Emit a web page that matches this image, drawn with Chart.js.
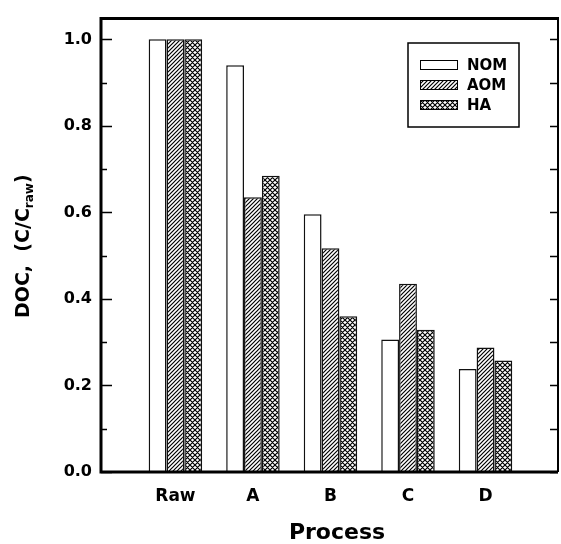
<!DOCTYPE html>
<html>
<head>
<meta charset="utf-8">
<script src="https://cdn.jsdelivr.net/npm/chart.js@4"></script>
<style>
  body { margin: 0; background: #fff; }
</style>
</head>
<body>
<canvas id="myChart" width="561" height="544"></canvas>
<script>
const categories = ['Raw', 'A', 'B', 'C', 'D'];
const nomValues = [1.0, 0.94, 0.596, 0.306, 0.238];
const aomValues = [1.0, 0.635, 0.517, 0.435, 0.288];
const haValues  = [1.0, 0.685, 0.36, 0.329, 0.258];
const seriesLabels = ['NOM', 'AOM', 'HA'];

const FONT = 'DejaVu Sans';

// small tiles for the hatch fills
function hatch(cross, s) {
  const c = document.createElement('canvas');
  c.width = s; c.height = s;
  const g = c.getContext('2d');
  g.fillStyle = '#fff';
  g.fillRect(0, 0, s, s);
  g.strokeStyle = '#000';
  g.lineWidth = 1.2;
  g.beginPath();
  g.moveTo(-1, s + 1); g.lineTo(s + 1, -1);
  g.moveTo(-1, 1); g.lineTo(1, -1);
  g.moveTo(s - 1, s + 1); g.lineTo(s + 1, s - 1);
  if (cross) {
    g.moveTo(-1, -1); g.lineTo(s + 1, s + 1);
    g.moveTo(s - 1, -1); g.lineTo(s + 1, 1);
    g.moveTo(-1, s - 1); g.lineTo(1, s + 1);
  }
  g.stroke();
  return g.createPattern(c, 'repeat');
}

const toPoints = vals => vals.map((v, i) => ({ x: i + 1, y: v }));

const frame = {
  id: 'frame',
  afterDatasetsDraw(chart) {
    const { ctx, chartArea: a, scales: { y } } = chart;
    ctx.save();
    ctx.strokeStyle = '#000';
    ctx.lineCap = 'butt';
    ctx.lineWidth = 1.5;
    for (let i = 0; i <= 10; i++) {
      const py = Math.round(y.getPixelForValue(i / 10)) + 0.5;
      const len = i % 2 ? 6 : 11;
      ctx.beginPath();
      ctx.moveTo(a.left, py); ctx.lineTo(a.left + len, py);
      ctx.moveTo(a.right, py); ctx.lineTo(a.right - 8, py);
      ctx.stroke();
    }
    ctx.lineWidth = 3;
    ctx.beginPath();
    ctx.moveTo(a.left, a.top); ctx.lineTo(a.left, a.bottom);
    ctx.moveTo(a.left - 1.5, a.bottom); ctx.lineTo(a.right, a.bottom);
    ctx.moveTo(a.left - 1.5, a.top); ctx.lineTo(a.right + 1, a.top);
    ctx.stroke();
    ctx.lineWidth = 2;
    ctx.beginPath();
    ctx.moveTo(a.right, a.top); ctx.lineTo(a.right, a.bottom);
    ctx.stroke();
    ctx.restore();
  }
};

const titles = {
  id: 'titles',
  afterDraw(chart) {
    const ctx = chart.ctx;
    ctx.save();
    ctx.fillStyle = '#000';
    // x title
    ctx.font = 'bold 22px ' + FONT;
    ctx.textAlign = 'center';
    ctx.textBaseline = 'alphabetic';
    ctx.fillText('Process', 337, 539);
    // y title, rotated, with subscript
    ctx.translate(29, 318);
    ctx.rotate(-Math.PI / 2);
    ctx.textAlign = 'left';
    const big = 'bold 19px ' + FONT;
    const small = 'bold 12px ' + FONT;
    let x = 0;
    ctx.font = big;
    ctx.fillText('DOC,  (C/C', x, 0);
    x += ctx.measureText('DOC,  (C/C').width;
    ctx.font = small;
    ctx.fillText('raw', x, 4);
    x += ctx.measureText('raw').width;
    ctx.font = big;
    ctx.fillText(')', x, 0);
    ctx.restore();
  }
};

const boxLegend = {
  id: 'boxLegend',
  afterDraw(chart) {
    const ctx = chart.ctx;
    ctx.save();
    ctx.strokeStyle = '#000';
    ctx.lineWidth = 1.5;
    ctx.strokeRect(408, 43, 111, 84);
    ctx.font = 'bold 15px ' + FONT;
    ctx.textBaseline = 'alphabetic';
    ctx.fillStyle = '#000';
    chart.data.datasets.forEach((ds, i) => {
      const yTop = 60 + i * 20;
      ctx.fillStyle = ds.backgroundColor;
      ctx.fillRect(420, yTop, 37, 9);
      ctx.lineWidth = 1;
      ctx.strokeRect(420.5, yTop + 0.5, 37, 9);
      ctx.fillStyle = '#000';
      ctx.fillText(ds.label, 467, yTop + 10);
    });
    ctx.restore();
  }
};

const ctx = document.getElementById('myChart').getContext('2d');
const myChart = new Chart(ctx, {
  type: 'bar',
  data: {
    datasets: [
      { label: seriesLabels[0], data: toPoints(nomValues), backgroundColor: '#fff' },
      { label: seriesLabels[1], data: toPoints(aomValues), backgroundColor: hatch(false, 4) },
      { label: seriesLabels[2], data: toPoints(haValues), backgroundColor: hatch(true, 5) }
    ]
  },
  options: {
    responsive: false,
    animation: false,
    layout: { padding: { top: 10, right: 3, left: 0, bottom: 0 } },
    datasets: {
      bar: {
        borderColor: '#111',
        borderWidth: 1.5,
        categoryPercentage: 0.69,
        barPercentage: 1.0
      }
    },
    scales: {
      x: {
        type: 'linear',
        offset: false,
        min: 0.04,
        max: 5.935,
        afterFit: s => { s.height = 72; },
        grid: { display: false, drawTicks: false },
        border: { display: false },
        ticks: {
          stepSize: 1,
          autoSkip: false,
          includeBounds: false,
          padding: 14,
          color: '#000',
          font: { family: FONT, size: 17, weight: 'bold' },
          callback: v => categories[v - 1] ?? ''
        }
      },
      y: {
        min: 0,
        max: 1.048,
        afterFit: s => { s.width = 101; },
        grid: { display: false, drawTicks: false },
        border: { display: false },
        ticks: {
          stepSize: 0.2,
          includeBounds: false,
          padding: 9,
          color: '#000',
          font: { family: FONT, size: 16, weight: 'bold' },
          callback: v => v.toFixed(1)
        }
      }
    },
    plugins: {
      legend: { display: false },
      tooltip: { enabled: false }
    }
  },
  plugins: [frame, titles, boxLegend]
});
</script>
</body>
</html>
